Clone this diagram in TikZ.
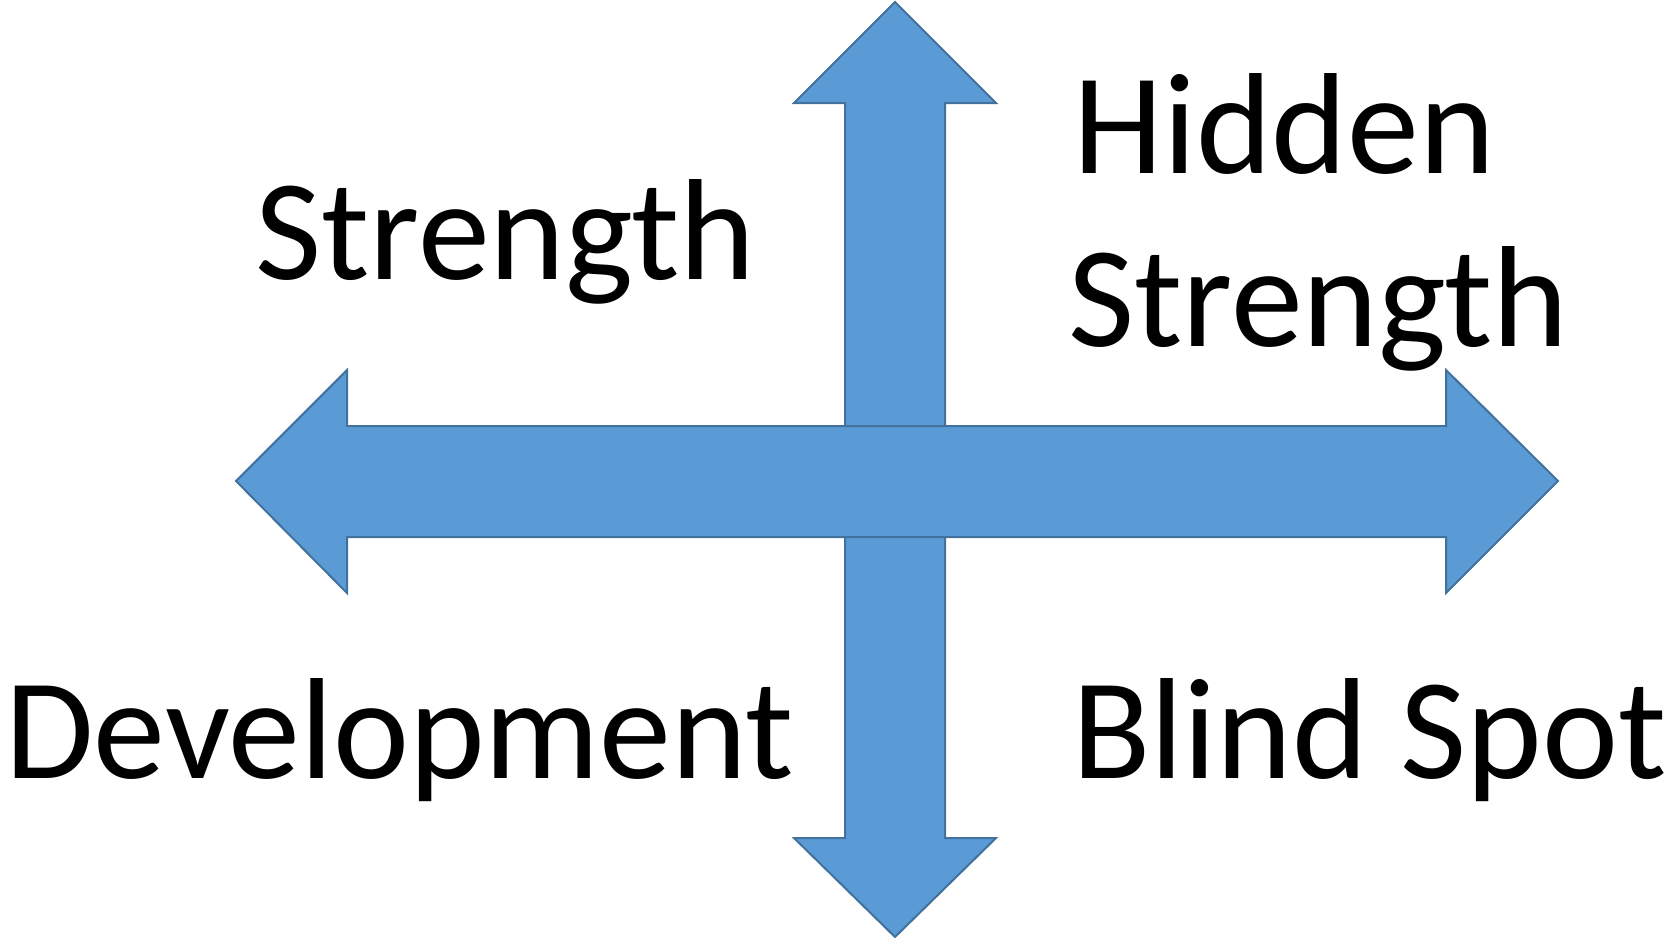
\documentclass[tikz,border=0pt]{standalone}
\usepackage{fontspec}
\setmainfont{Carlito}
\definecolor{arrfill}{HTML}{5B9BD5}
\definecolor{arrline}{HTML}{41719C}
\begin{document}
\begin{tikzpicture}[x=0.5pt,y=-0.5pt,
  bigarrow/.style={fill=arrfill,draw=arrline,line width=1pt,line join=miter},
  lbl/.style={anchor=base west,inner sep=0pt,font=\fontsize{72}{86}\selectfont}]
\useasboundingbox (0,0) rectangle (1665,937);
% vertical double arrow
\draw[bigarrow] (895,2) -- (996,103) -- (945,103) -- (945,838) -- (996,838) -- (895,937)
  -- (794,838) -- (845,838) -- (845,103) -- (794,103) -- cycle;
% horizontal double arrow
\draw[bigarrow] (236,481) -- (347,370) -- (347,426) -- (1446,426) -- (1446,370) -- (1558,481)
  -- (1446,593) -- (1446,537) -- (347,537) -- (347,593) -- cycle;
\node[lbl] (strength) at (255,279) {Strength};
\node[lbl] (hidden) at (1073,173) {Hidden};
\node[lbl] (hstrength) at (1068,346) {Strength};
\node[lbl] (development) at (5,778) {Development};
\node[lbl] (blind) at (1072,778) {Blind Spot};
\end{tikzpicture}
\end{document}
